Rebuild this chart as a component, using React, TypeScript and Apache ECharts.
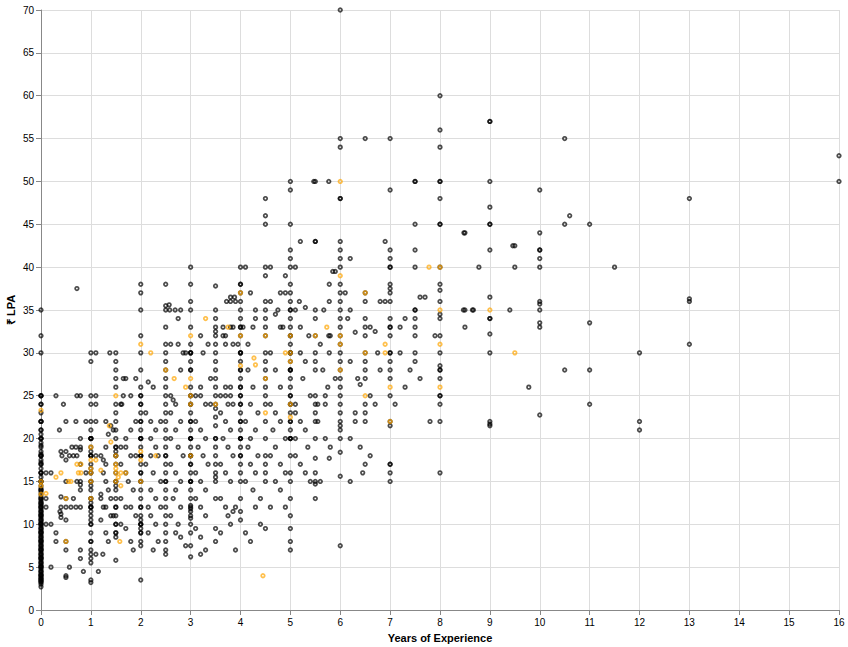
import React, { useEffect, useRef } from "react";
import * as echarts from "echarts";

// ---- grey (main) points, grouped by x column ----
const g0 = [2.7, 3, 3.2, 3.4, 3.5, 3.6, 3.8, 4, 4, 4.2, 4.5, 4.8, 5, 5, 5.2, 5.5, 5.8, 6, 6, 6.2, 6.5, 6.8, 7, 7, 7.2, 7.5, 7.8, 8, 8, 8.2, 8.5, 8.8, 9, 9, 9.2, 9.5, 9.8, 10, 10, 10.2, 10.5, 10.8, 11, 11, 11.2, 11.5, 11.8, 12, 12, 12.3, 12.5, 12.8, 13, 13, 13.5, 14, 14, 14.5, 15, 15, 15.5, 16, 16, 16.5, 17, 17, 17.5, 18, 18, 18.5, 19, 19.5, 20, 20, 20.5, 21, 22, 22, 23, 24, 25, 25, 30, 32, 35];
const g0b = [3.3, 3.7, 4.1, 4.4, 4.6, 5.1, 5.4, 5.6, 6.1, 6.4, 6.6, 7.1, 7.4, 7.6, 8.1, 8.4, 8.6, 9.1, 9.4, 9.6, 10.1, 10.4, 10.6, 11.1, 11.4, 11.6, 12.1, 12.4, 12.6, 13.2, 13.8, 14.2, 15, 16, 17.2, 18, 18.2, 19.2, 20, 21, 22, 24, 25];
const g05 = [4, 7, 8, 10.5, 12, 13, 15, 17.5, 18.5, 22];
const g1 = [3.2, 3.5, 5.5, 6, 6.5, 7, 8, 9, 10, 10.5, 11, 11.5, 12, 12, 12.5, 13, 14, 14.5, 15, 16, 16.5, 17, 18, 18, 18.5, 19, 20, 20, 21, 22, 24, 25, 29, 30];
const g11 = [30, 25, 24, 22, 18];
const g15 = [5.8, 8.5, 9, 9, 10, 10, 11, 12, 12, 13, 14, 14.5, 15, 15, 16, 17, 18, 18, 18.5, 19, 19, 20, 21, 22, 23, 24, 26, 27, 28, 29, 30];
const g2 = [3.5, 7.5, 8, 9, 9.5, 10, 10, 10.5, 11, 12, 13, 14, 15, 16, 16, 17, 18, 18, 19, 20, 20, 21, 22, 23, 24, 25, 26, 28, 30, 32, 35, 37, 38];
const g25 = [6.5, 7, 8, 9, 10, 11, 12, 13, 14, 15, 15, 16, 17, 18, 18, 19, 20, 21, 22, 23, 24, 25, 26, 27, 28, 29, 30, 31, 33, 35, 35.5, 38];
const g3 = [6.2, 7.5, 9, 10, 10.7, 11, 11.5, 11.8, 12.2, 13, 14, 15, 15, 16, 17, 18, 18, 19, 20, 20, 21, 22, 23, 24, 25, 26, 28, 29, 30, 30, 31, 33, 35, 36, 38, 40];
const g35 = [8, 9.5, 13, 15, 15.5, 16, 17, 18, 19, 20, 20, 21.5, 22.5, 23.5, 24, 25, 26, 27, 28, 29, 30, 31, 32, 32.5, 33, 34, 35, 37.8];
const g4 = [10.5, 11.5, 13, 15, 16, 17, 18, 19, 20, 20, 21, 22, 23, 24, 25, 26, 27, 28, 29, 30, 30, 32, 33, 34, 35, 36, 37, 38, 38, 40];
const g45 = [9.5, 15, 16, 17, 18, 20, 22, 24, 25, 26, 27, 28, 29, 30, 32, 33, 34, 35, 36, 39, 40, 45, 46, 48];
const g5 = [7, 8, 9.5, 11, 13, 15, 16, 18, 20, 20, 21, 22, 23, 24, 25, 26, 27, 28, 28, 29, 30, 30, 31, 32, 33, 34, 35, 36, 37, 38, 40, 41, 42, 45, 49, 50];
const g55 = [13, 14.7, 15, 16, 17.7, 20, 22, 23, 24, 25, 28, 29, 30, 32, 34, 35, 43, 43, 50];
const g6 = [7.5, 15.6, 18.4, 20, 21, 21.5, 22, 23, 24, 25, 26, 27, 28, 29, 30, 31, 32, 33, 34, 35, 36, 37, 38, 40, 41, 42, 43, 48, 48, 54, 55, 70];
const g65 = [22, 23, 24, 27, 28, 29, 30, 32, 33, 34, 36, 37, 55];
const g7 = [15, 16, 17, 17, 21.5, 22, 25, 27, 28, 29, 30, 30, 32, 33, 33, 34, 36, 37, 37.5, 38, 40, 40, 41, 42, 49, 55];
const g75 = [29, 30, 32, 33, 34, 35, 35, 40, 42, 45, 50, 50];
const g8 = [16, 22, 24, 25, 25, 27, 28, 28, 28.5, 30, 32, 34, 34.5, 36, 37.3, 38, 40, 45, 45, 48, 50, 50, 54, 56, 60];
const g85 = [33, 35, 44];
const g9 = [21.5, 21.7, 22, 30, 32.2, 34, 34, 36.5, 42, 45, 45, 47, 50, 57, 57];
const g95 = [40, 42.5];
const g10 = [22.75, 33, 33.5, 35, 35.7, 36, 40, 41, 42, 42, 44, 49];
const g105 = [28, 45, 55];
const g11c = [24, 28, 33.5, 45];
const g12 = [21, 22, 30];
const g13 = [31, 36, 36.3, 48];
const g16 = [50, 53];

// repeated salaries that make the integer columns look solid
const dup1 = [8, 10, 12, 13, 15, 16, 18, 20, 20];
const dup2 = [9, 10, 12, 15, 18, 20, 22, 24, 25];
const dup3 = [12, 15, 17, 18, 20, 22, 24, 25, 28, 30];
const dup4 = [18, 20, 22, 24, 25, 26, 28, 30, 33];
const dup5 = [20, 22, 24, 25, 28, 30, 32, 35];

// ---- grey points lying between the columns ----
const gOff: [number, number][] = [
  [0.1, 16], [0.2, 16], [0.1, 13], [0.1, 12], [0.1, 10], [0.2, 10], [0.2, 5], [0.3, 25], [0.3, 9], [0.3, 8], [0.38, 11.5], [0.37, 21], [0.4, 18.5], [0.42, 18], [0.45, 24], [0.4, 13.2], [0.4, 12], [0.4, 10.8], [0.4, 11.2], [0.5, 3.8], [0.57, 5], [0.57, 18], [0.65, 13], [0.65, 18], [0.62, 19], [0.7, 12], [0.7, 19], [0.7, 22], [0.72, 25], [0.72, 37.5], [0.72, 18], [0.72, 15], [0.79, 25], [0.79, 20], [0.79, 19], [0.79, 18.7], [0.79, 17], [0.79, 15], [0.79, 14.6], [0.79, 14], [0.79, 12], [0.79, 7], [0.79, 6], [0.85, 4.5], [0.9, 16], [0.9, 22], [0.6, 12],
  [1.2, 18], [1.25, 17.5], [1.3, 17], [1.2, 13.5], [1.2, 13], [1.25, 12], [1.3, 12], [1.4, 11], [1.45, 11], [1.2, 10.5], [1.24, 6.5], [1.38, 30], [1.65, 27], [1.65, 25], [1.8, 25], [1.6, 24], [1.62, 24], [1.3, 22], [1.4, 21.5], [1.45, 21], [1.35, 20.5], [1.3, 19], [1.25, 16], [1.3, 15], [1.35, 14], [1.4, 13], [1.3, 9], [1.35, 8], [1.15, 4.5], [1.1, 6.5],
  [1.6, 19], [1.7, 19], [1.8, 18], [1.9, 18], [1.6, 17], [1.7, 16], [1.75, 15], [1.85, 14], [1.6, 13], [1.7, 12], [1.8, 12], [1.9, 11], [1.6, 10], [1.7, 9.5], [1.8, 8], [1.85, 7], [1.7, 27], [1.9, 27], [1.9, 22], [1.8, 21], [1.7, 20],
  [2.15, 26.6], [2.25, 26], [2.1, 23], [2.2, 22], [2.3, 21], [2.4, 22], [2.2, 20], [2.3, 19], [2.2, 18], [2.35, 18], [2.1, 17], [2.25, 16], [2.4, 15], [2.2, 14], [2.3, 13], [2.15, 12], [2.4, 12], [2.2, 11], [2.3, 10], [2.15, 9], [2.25, 7], [2.35, 8],
  [2.58, 35], [2.69, 35], [2.8, 35], [2.75, 34], [2.57, 35.6], [2.85, 30], [2.9, 30], [2.75, 31], [2.6, 31], [2.8, 28], [2.6, 25], [2.65, 24.5], [2.7, 24], [2.6, 23], [2.8, 22], [2.7, 21], [2.6, 20], [2.75, 19], [2.85, 18], [2.6, 17], [2.7, 16], [2.8, 15], [2.7, 14], [2.65, 13], [2.8, 12], [2.6, 11], [2.75, 10], [2.7, 9], [2.8, 8.5], [2.9, 7.5],
  [3.1, 25], [3.2, 25], [3.3, 24], [3.4, 24], [3.2, 26], [3.1, 22], [3.2, 21], [3.3, 20], [3.15, 19], [3.25, 18], [3.35, 17], [3.1, 16], [3.2, 15], [3.3, 14], [3.1, 13], [3.2, 12], [3.3, 11], [3.1, 9.5], [3.2, 8.5], [3.2, 6.5], [3.3, 7], [3.4, 27], [3.25, 30], [3.35, 31], [3.2, 32],
  [3.65, 33], [3.8, 33], [3.85, 33], [3.7, 32], [3.65, 32], [3.7, 31], [3.85, 31], [3.95, 31], [3.72, 36], [3.8, 36], [3.9, 36], [3.8, 36.5], [3.88, 36.5], [3.6, 25], [3.7, 25], [3.8, 25], [3.75, 24], [3.85, 24], [3.7, 26], [3.8, 26], [3.6, 23], [3.7, 22], [3.8, 21], [3.65, 20], [3.75, 19], [3.85, 18], [3.6, 17], [3.7, 16], [3.8, 15], [3.6, 13], [3.7, 12], [3.85, 11.5], [3.75, 11], [3.9, 12], [3.6, 9], [3.8, 10], [3.9, 7],
  [4.05, 33], [4.25, 33], [4.3, 35], [4.3, 34], [4.15, 31], [4.25, 26], [4.1, 40], [4.2, 37], [4.15, 28], [4.2, 24], [4.35, 23], [4.1, 22], [4.3, 21], [4.2, 20], [4.15, 19], [4.35, 18], [4.2, 17], [4.3, 16], [4.1, 15], [4.25, 14], [4.4, 13], [4.3, 12], [4.1, 9], [4.2, 8], [4.4, 10],
  [4.6, 40], [4.8, 37], [4.9, 37], [4.6, 36], [4.7, 34.5], [4.75, 35], [4.8, 33], [4.85, 33], [4.9, 39], [4.6, 30], [4.7, 28], [4.8, 26], [4.6, 24], [4.7, 23], [4.8, 22], [4.65, 21], [4.9, 20], [4.7, 19], [4.6, 18], [4.8, 17], [4.9, 16], [4.7, 15], [4.8, 14], [4.6, 12], [4.9, 12],
  [5.2, 43], [5.1, 40], [5.18, 36], [5.3, 35.3], [5.1, 35], [5.2, 33], [5.37, 32], [5.1, 24], [5.1, 23], [5.1, 20], [5.1, 18], [5.2, 30], [5.3, 29], [5.25, 27], [5.4, 25], [5.2, 22], [5.3, 21], [5.35, 19], [5.2, 17], [5.3, 16], [5.4, 15],
  [5.77, 50], [5.47, 50], [5.85, 39.5], [5.78, 38], [5.78, 36], [5.67, 35], [5.8, 32], [5.77, 32], [5.6, 31], [5.78, 30], [5.7, 25], [5.55, 24], [5.7, 24], [5.55, 22], [5.78, 17.7], [5.6, 15], [5.9, 39.5], [5.7, 20], [5.8, 19], [5.9, 27], [5.65, 28], [5.75, 26],
  [6.1, 37], [6.2, 41], [6.2, 29], [6.3, 32.4], [6.4, 26.3], [6.3, 23], [6.3, 22], [6.7, 32.5], [6.8, 36], [6.9, 36], [6.9, 43], [6.2, 35], [6.15, 34], [6.6, 33], [6.75, 30], [6.8, 28], [6.35, 27], [6.6, 25], [6.7, 24], [6.2, 20], [6.4, 19], [6.6, 18], [6.45, 16], [6.2, 15], [6.5, 17],
  [7.2, 33], [7.3, 34], [7.6, 36.5], [7.7, 36.5], [7.9, 32], [7.8, 22], [7.2, 30], [7.4, 28], [7.6, 27], [7.3, 26], [7.1, 24],
  [8.48, 44], [8.47, 35], [8.65, 35], [8.78, 40], [9.4, 35], [9.46, 42.5], [9.78, 26], [10.6, 46], [11.5, 40], [8.67, 35],
];

// ---- orange (highlighted) points ----
const oPts: [number, number][] = [
  [0, 23.3], [0, 15], [0, 14.5], [0, 13.5], [0.1, 13.6], [0.3, 15.5], [0.4, 16], [0.5, 13], [0.5, 8], [0.55, 15], [0.72, 17], [0.75, 16], [0.8, 17], [0.8, 16], [0.6, 15],
  [1, 19], [1, 17.5], [1, 16.5], [1, 16], [1, 15], [1, 13], [1.1, 17.5], [1.2, 16.3], [1.37, 21.5], [1.4, 19.6], [1.5, 25], [1.5, 18], [1.5, 17], [1.5, 16.5], [1.5, 16], [1.55, 15.5], [1.5, 15], [1.58, 8], [1.6, 14.5], [1.6, 16], [1.7, 16],
  [2, 31], [2, 18.5], [2, 17.5], [2, 15], [2.2, 30], [2.3, 18], [2.5, 28], [2.67, 27], [2.9, 26], [3, 32], [3, 27], [3, 25], [3, 18], [3, 24], [3.3, 34], [3.5, 24], [3.75, 33],
  [4, 37], [4, 32], [4, 28.5], [4.27, 29.4], [4.3, 28.6], [4.5, 32], [4.5, 27], [4.5, 23], [4.45, 4], [4.9, 30],
  [5, 30], [5, 32], [5, 29], [5, 24], [5, 22.5], [5.5, 32], [5.73, 33], [6, 50], [6, 39], [6, 32], [6, 31], [6, 28], [6.5, 37], [6.5, 30], [6.5, 25], [6.9, 30], [6.9, 31],
  [7, 26], [7, 22], [7.78, 40], [8, 40], [8, 35], [8, 31], [8, 26], [9, 35], [9.5, 30],
];

const greyColumns: [number, number[]][] = [
  [0, g0], [0, g0b], [0.5, g05], [1, g1], [1.1, g11], [1.5, g15], [2, g2], [2.5, g25], [3, g3], [3.5, g35], [4, g4], [4.5, g45],
  [5, g5], [5.5, g55], [6, g6], [6.5, g65], [7, g7], [7.5, g75], [8, g8], [8.5, g85], [9, g9], [9.5, g95], [10, g10],
  [10.5, g105], [11, g11c], [12, g12], [13, g13], [16, g16],
  [1, dup1], [2, dup2], [3, dup3], [4, dup4], [5, dup5],
];

const FONT = "'Liberation Sans', Arial, Helvetica, sans-serif";

export default function App() {
  const ref = useRef<HTMLDivElement>(null);
  useEffect(() => {
    if (!ref.current) return;
    const chart = echarts.init(ref.current, undefined, { renderer: "svg" });
    const greyData: [number, number][] = [];
    greyColumns.forEach(([x, ys]) => ys.forEach((y) => greyData.push([x, y])));
    gOff.forEach((p) => greyData.push(p));

    const axisCommon = {
      type: "value" as const,
      axisLine: { show: true, lineStyle: { color: "#888", width: 1 } },
      axisTick: { show: true, length: 5, lineStyle: { color: "#888" } },
      splitLine: { show: true, lineStyle: { color: "#ddd", width: 1 } },
      axisLabel: { color: "#000", fontSize: 10, fontFamily: FONT, margin: 7 },
      nameTextStyle: { color: "#000", fontSize: 11, fontWeight: "bold" as const, fontFamily: FONT },
      nameMoveOverlap: false,
    };

    chart.setOption({
      animation: false,
      grid: { left: 41, right: 9, top: 10, bottom: 37, containLabel: false, outerBoundsMode: "none" },
      xAxis: {
        ...axisCommon,
        min: 0,
        max: 16,
        interval: 1,
        name: "Years of Experience",
        nameLocation: "middle",
        nameGap: 22,
      },
      yAxis: {
        ...axisCommon,
        min: 0,
        max: 70,
        interval: 5,
        name: "₹ LPA",
        nameLocation: "middle",
        nameGap: 25,
      },
      series: [
        {
          type: "scatter",
          data: greyData,
          symbol: "circle",
          symbolSize: 3.5,
          itemStyle: { color: "rgba(0,0,0,0)", borderColor: "#000", borderWidth: 1.8, opacity: 0.7 },
          emphasis: { disabled: true },
        },
        {
          type: "scatter",
          data: oPts,
          symbol: "circle",
          symbolSize: 3.5,
          itemStyle: { color: "rgba(0,0,0,0)", borderColor: "#FFA500", borderWidth: 1.8, opacity: 0.7 },
          emphasis: { disabled: true },
        },
      ],
    });
    return () => chart.dispose();
  }, []);
  return (
    <div
      ref={ref}
      style={{ position: "fixed", left: 0, top: 0, width: 848, height: 647, background: "#fff" }}
    />
  );
}
